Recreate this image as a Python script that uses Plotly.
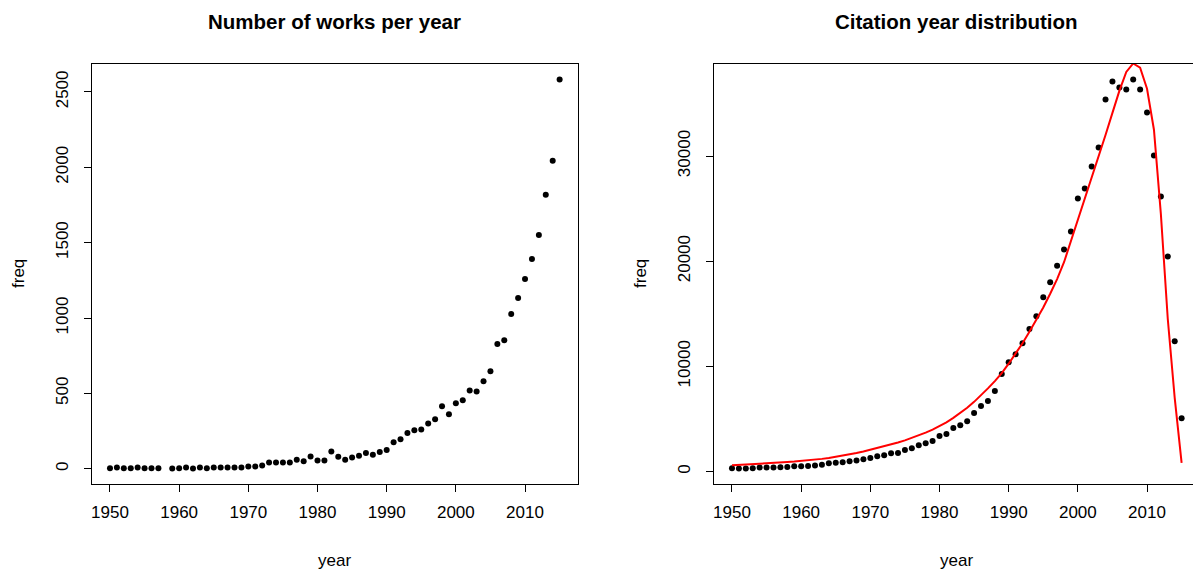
import plotly.graph_objects as go

# Works published per year (1958 has no record)
works_years = [1950, 1951, 1952, 1953, 1954, 1955, 1956, 1957,
               1959, 1960, 1961, 1962, 1963, 1964, 1965, 1966, 1967, 1968, 1969,
               1970, 1971, 1972, 1973, 1974, 1975, 1976, 1977, 1978, 1979,
               1980, 1981, 1982, 1983, 1984, 1985, 1986, 1987, 1988, 1989,
               1990, 1991, 1992, 1993, 1994, 1995, 1996, 1997, 1998, 1999,
               2000, 2001, 2002, 2003, 2004, 2005, 2006, 2007, 2008, 2009,
               2010, 2011, 2012, 2013, 2014, 2015]
works_freq = [3, 9, 3, 3, 8, 4, 3, 3,
              2, 3, 8, 2, 8, 3, 8, 8, 8, 9, 9,
              15, 15, 22, 42, 42, 42, 42, 60, 49, 82,
              55, 55, 115, 80, 60, 75, 86, 104, 93, 111,
              125, 175, 195, 237, 255, 261, 301, 328, 414, 361,
              434, 454, 519, 512, 581, 647, 827, 853, 1026, 1133,
              1259, 1392, 1551, 1817, 2044, 2582]

# Citations by cited year, 1950-2015
cite_years = list(range(1950, 2016))
cite_freq = [315, 290, 290, 315, 380, 380, 380, 400, 420, 507,
             507, 520, 570, 633, 792, 823, 887, 982, 1045, 1166,
             1293, 1450, 1545, 1735, 1766, 2050, 2209, 2493, 2683, 2904,
             3378, 3567, 4136, 4389, 4768, 5557, 6221, 6695, 7644, 9278,
             10387, 11147, 12192, 13553, 14757, 16562, 17987, 19570, 21122, 22832,
             25967, 26917, 29007, 30812, 35372, 37082, 36512, 36322, 37272, 36322,
             34137, 30052, 26157, 20457, 12382, 5067]

# Fitted model curve evaluated at each year
fit_freq = [600, 630, 660, 695, 735, 775, 815, 855, 895, 940,
            990, 1050, 1120, 1200, 1290, 1390, 1500, 1620, 1750, 1900,
            2060, 2220, 2390, 2570, 2760, 2960, 3180, 3420, 3690, 3980,
            4300, 4680, 5100, 5560, 6060, 6620, 7230, 7900, 8600, 9350,
            10250, 11200, 12200, 13300, 14400, 15600, 16900, 18300, 19900, 21900,
            24000, 25900, 27800, 29900, 32000, 34100, 36200, 38000, 38800, 38400,
            36400, 32500, 24500, 14500, 7000, 820]

year_ticks = [1950, 1960, 1970, 1980, 1990, 2000, 2010]
works_ticks = [0, 500, 1000, 1500, 2000, 2500]
cite_ticks = [0, 10000, 20000, 30000]

W, H = 1193, 574
FONT = "Liberation Sans, Arial, Helvetica, sans-serif"


def r_range(vals):
    lo, hi = min(vals), max(vals)
    pad = 0.04 * (hi - lo)
    return [lo - pad, hi + pad]


fig = go.Figure()

fig.add_trace(go.Scatter(
    x=works_years, y=works_freq, mode="markers",
    marker=dict(color="black", size=6), xaxis="x", yaxis="y",
    showlegend=False, cliponaxis=False))

fig.add_trace(go.Scatter(
    x=cite_years, y=cite_freq, mode="markers",
    marker=dict(color="black", size=6), xaxis="x2", yaxis="y2",
    showlegend=False, cliponaxis=False))

fig.add_trace(go.Scatter(
    x=cite_years, y=fit_freq, mode="lines",
    line=dict(color="#ff0000", width=2), xaxis="x2", yaxis="y2",
    showlegend=False, cliponaxis=True))

xr = r_range(works_years)
# left panel box: x 92..578 px, y 64..484 px
left_dom = [92 / W, 577.6 / W]
right_x0 = 714.0
px_per_year = (577.6 - 92.0) / (xr[1] - xr[0])
right_xmax = xr[0] + (W - right_x0) / px_per_year
y_dom = [(H - 484) / H, (H - 64) / H]

axis_common = dict(
    showgrid=False, zeroline=False, showline=True, linecolor="black",
    linewidth=1, ticks="outside", ticklen=7, tickwidth=1, tickcolor="black",
    tickfont=dict(family=FONT, size=17, color="black"),
)

fig.update_layout(
    width=W, height=H,
    margin=dict(l=0, r=0, t=0, b=0),
    paper_bgcolor="white", plot_bgcolor="white",
    font=dict(family=FONT, color="black"),
    xaxis=dict(axis_common, domain=left_dom, range=xr, tickvals=year_ticks,
               ticktext=[str(v) for v in year_ticks],
               mirror=True, anchor="y", ticklabelstandoff=6),
    yaxis=dict(axis_common, domain=y_dom, range=r_range(works_freq),
               tickvals=works_ticks, ticktext=[str(v) for v in works_ticks],
               tickangle=-90, mirror=True, anchor="x", ticklabelstandoff=9),
    xaxis2=dict(axis_common, domain=[right_x0 / W, 1.0], range=[xr[0], right_xmax],
                tickvals=year_ticks, ticktext=[str(v) for v in year_ticks],
                mirror=True, anchor="y2", ticklabelstandoff=6),
    yaxis2=dict(axis_common, domain=y_dom, range=r_range(cite_freq),
                tickvals=cite_ticks, ticktext=[str(v) for v in cite_ticks],
                tickangle=-90, anchor="x2", ticklabelstandoff=9),
)

left_cx = (92 + 577.6) / 2
right_cx = (714.0 + 714.0 + (xr[1] - xr[0]) * px_per_year) / 2


def label(text, px, py, size=17, bold=False, angle=0):
    fig.add_annotation(
        text=f"<b>{text}</b>" if bold else text,
        x=px / W, y=1 - py / H, xref="paper", yref="paper",
        xanchor="center", yanchor="middle", showarrow=False, textangle=angle,
        font=dict(family=FONT, size=size, color="black"))


label("Number of works per year", left_cx, 21, size=20.5, bold=True)
label("Citation year distribution", right_cx, 21, size=20.5, bold=True)
label("year", left_cx, 560)
label("year", right_cx, 560)
label("freq", 18, 274, angle=-90)
label("freq", 640, 274, angle=-90)

fig.write_html("out.html")
